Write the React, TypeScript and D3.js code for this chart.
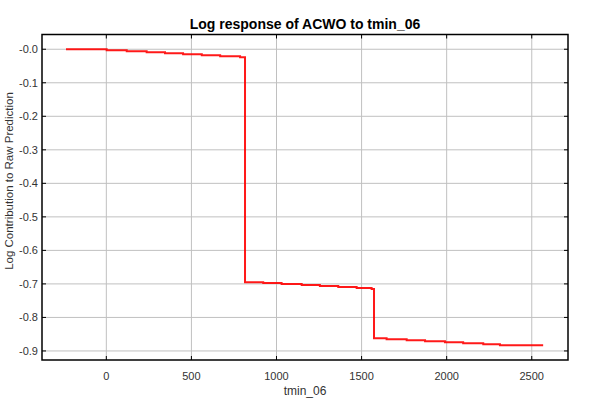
import React from "react";
import * as d3 from "d3";

const TITLE = "Log response of ACWO to tmin_06";
const X_LABEL = "tmin_06";
const Y_LABEL = "Log Contribution to Raw Prediction";

// step breakpoints (x) and response values (y)
const stepX = [
  -237, 2, 120, 237, 345, 451, 561, 669, 786, 801,
  815, 922, 1030, 1148, 1255, 1363, 1471, 1559,
  1573, 1647, 1765, 1873, 1990, 2097, 2215, 2313, 2567,
];
const stepY = [
  0.0, -0.003, -0.006, -0.009, -0.012, -0.015, -0.018, -0.021, -0.024, -0.024,
  -0.695, -0.697, -0.7, -0.703, -0.706, -0.709, -0.712, -0.715,
  -0.862, -0.865, -0.868, -0.871, -0.874, -0.877, -0.88, -0.883, -0.883,
];

const xTicks = [0, 500, 1000, 1500, 2000, 2500];
const yTicks = [0, -0.1, -0.2, -0.3, -0.4, -0.5, -0.6, -0.7, -0.8, -0.9];

const W = 600;
const H = 400;
const M = { left: 42, right: 32, top: 34.5, bottom: 40 };
const FONT = "'Liberation Sans', Arial, sans-serif";

export default function App() {
  const x = d3.scaleLinear().domain([-378, 2713]).range([M.left, W - M.right]);
  const y = d3.scaleLinear().domain([-0.927, 0.044]).range([H - M.bottom, M.top]);
  const pts = stepX.map((v, i) => [v, stepY[i]] as [number, number]);
  const line = d3
    .line<[number, number]>()
    .x((d) => x(d[0]))
    .y((d) => y(d[1]))
    .curve(d3.curveStepAfter);
  const x0 = M.left;
  const x1 = W - M.right;
  const y0 = M.top;
  const y1 = H - M.bottom;
  return (
    <svg
      width={W}
      height={H}
      style={{ position: "absolute", left: 0, top: 0, background: "#fff" }}
      fontFamily={FONT}
    >
      <rect x={0} y={0} width={W} height={H} fill="#fff" />
      {xTicks.map((t) => (
        <line key={"gx" + t} x1={x(t)} x2={x(t)} y1={y0} y2={y1} stroke="#c0c0c0" strokeWidth={1} />
      ))}
      {yTicks.map((t) => (
        <line key={"gy" + t} x1={x0} x2={x1} y1={y(t)} y2={y(t)} stroke="#c0c0c0" strokeWidth={1} />
      ))}
      <path d={line(pts) || ""} fill="none" stroke="#ff0000" strokeWidth={2} strokeOpacity={0.9} />
      <rect x={x0} y={y0} width={x1 - x0} height={y1 - y0} fill="none" stroke="#000" strokeWidth={1.5} />
      {xTicks.map((t) => (
        <g key={"tx" + t}>
          <line x1={x(t)} x2={x(t)} y1={y1} y2={y1 - 4} stroke="#000" />
          <line x1={x(t)} x2={x(t)} y1={y0} y2={y0 + 4} stroke="#000" />
          <text x={x(t)} y={380} textAnchor="middle" fontSize={11} fill="#333">
            {t}
          </text>
        </g>
      ))}
      {yTicks.map((t) => (
        <g key={"ty" + t}>
          <line x1={x0} x2={x0 + 4} y1={y(t)} y2={y(t)} stroke="#000" />
          <line x1={x1} x2={x1 - 4} y1={y(t)} y2={y(t)} stroke="#000" />
          <text x={38} y={y(t) + 4} textAnchor="end" fontSize={11} fill="#333">
            {t === 0 ? "-0.0" : t.toFixed(1)}
          </text>
        </g>
      ))}
      <text x={(x0 + x1) / 2} y={29} textAnchor="middle" fontSize={14} fontWeight="bold" fill="#000">
        {TITLE}
      </text>
      <text x={(x0 + x1) / 2} y={395} textAnchor="middle" fontSize={12} fill="#333">
        {X_LABEL}
      </text>
      <text
        transform={`translate(13,181) rotate(-90)`}
        textAnchor="middle"
        fontSize={11.5}
        fill="#333"
      >
        {Y_LABEL}
      </text>
    </svg>
  );
}
